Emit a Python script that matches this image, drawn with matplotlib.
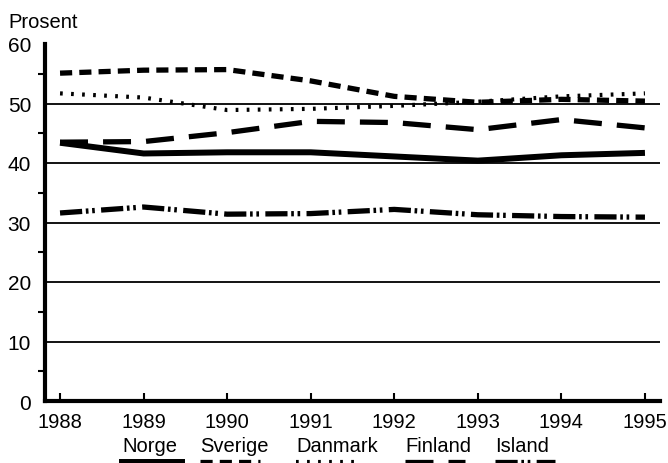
import matplotlib
matplotlib.use("Agg")
from matplotlib import pyplot as plt
from matplotlib.lines import Line2D

plt.rcParams['font.family'] = ['Liberation Sans', 'DejaVu Sans']

years = [1988, 1989, 1990, 1991, 1992, 1993, 1994, 1995]
norge = [43.4, 41.6, 41.8, 41.8, 41.1, 40.4, 41.3, 41.7]
sverige = [55.1, 55.6, 55.7, 53.8, 51.2, 50.2, 50.7, 50.4]
danmark = [51.7, 51.0, 48.9, 49.1, 49.6, 50.3, 51.2, 51.7]
finland = [43.5, 43.6, 45.1, 47.0, 46.8, 45.6, 47.3, 45.9]
island = [31.6, 32.6, 31.4, 31.5, 32.2, 31.3, 31.0, 30.9]

names = ['Norge', 'Sverige', 'Danmark', 'Finland', 'Island']
series = [norge, sverige, danmark, finland, island]
styles = [
    dict(linestyle='-', linewidth=4.3),
    dict(linestyle=(0, (2.3, 1.35)), linewidth=3.8),
    dict(linestyle=(0, (0.65, 2.0)), linewidth=3.0),
    dict(linestyle=(0, (5.3, 2.85)), linewidth=3.8),
    dict(linestyle=(0, (4.2, 0.7, 0.5, 0.7, 0.5, 1.2)), linewidth=3.8),
]

fig = plt.figure(figsize=(6.68, 4.64), dpi=100)
ax = fig.add_axes([45 / 668, 1 - 402 / 464, 615 / 668, 357 / 464])

for yv in [10, 20, 30, 40, 50]:
    ax.axhline(yv, color='black', linewidth=1.3, zorder=1)

for vals, st in zip(series, styles):
    ax.plot(years, vals, color='black', solid_capstyle='butt',
            dash_capstyle='butt', zorder=3, **st)

ax.set_xlim(1987.82, 1995.18)
ax.set_ylim(0, 60)
ax.set_xticks(years)
ax.set_yticks([0, 10, 20, 30, 40, 50, 60])
ax.set_yticks([5, 15, 25, 35, 45, 55], minor=True)
ax.tick_params(axis='both', direction='in', width=1.5)
ax.tick_params(axis='x', length=6, pad=8, labelsize=14.5)
ax.tick_params(axis='y', which='major', length=0, pad=10, labelsize=15)
ax.tick_params(axis='y', which='minor', length=5, width=1.5)

for side in ['top', 'right']:
    ax.spines[side].set_visible(False)
for side in ['left', 'bottom']:
    ax.spines[side].set_linewidth(3)

fig.text(8 / 668, 1 - 22 / 464, 'Prosent', fontsize=14.5, va='center', ha='left')

# legend: names in a row with the line samples underneath
label_x = [122, 200, 296, 405, 495]
for name, st, lx in zip(names, styles, label_x):
    fig.text(lx / 668, 1 - 447 / 464, name, fontsize=14.5, va='center', ha='left')
    fig.add_artist(Line2D([lx / 668, (lx + 60) / 668], [1 - 463 / 464, 1 - 463 / 464],
                          color='black', transform=fig.transFigure, **st))

fig.savefig('out.png', dpi=100)
